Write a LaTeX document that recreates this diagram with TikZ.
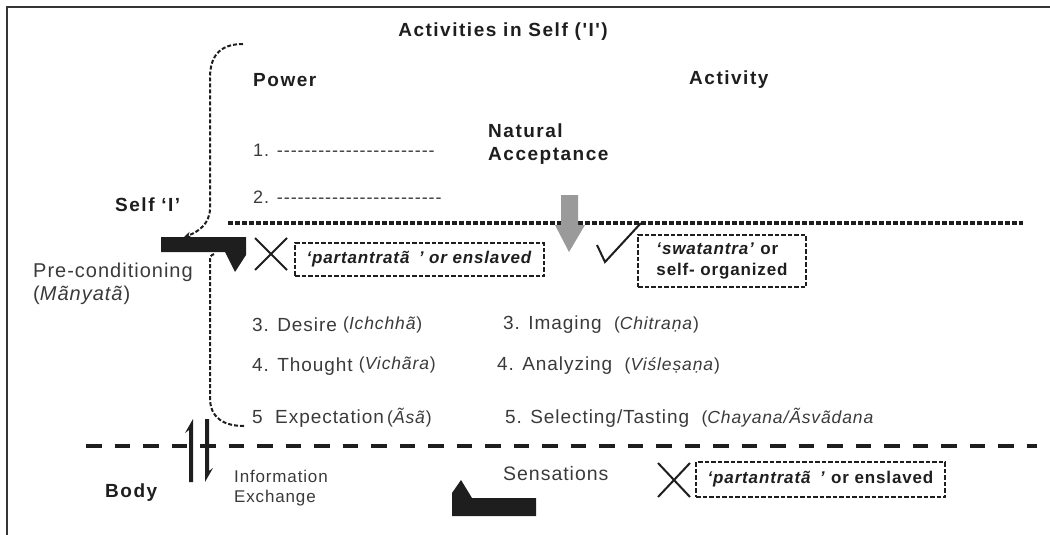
\documentclass[tikz,border=0pt]{standalone}
\usepackage{fontspec}
\setmainfont{Liberation Sans}[Ligatures=TeXOff]
\newfontfamily\hdf{Liberation Sans}[Ligatures=TeXOff,LetterSpace=8]
\newfontfamily\txf{Liberation Sans}[Ligatures=TeXOff,LetterSpace=5]
\newfontfamily\bxf{Liberation Sans}[Ligatures=TeXOff,LetterSpace=5]
\usetikzlibrary{arrows.meta}
\definecolor{ink}{HTML}{1E1E1E}
\definecolor{txt}{HTML}{3A3A3A}
\definecolor{arrowgray}{HTML}{9A9A9A}
\newcommand\skt[2][0pt]{\raisebox{#1}{\fontsize{17.5}{19}\selectfont(\textit{#2})}}
\newcommand\sktopen[1]{{\fontsize{17.5}{19}\selectfont(\textit{#1}}}
\tikzset{
  hd/.style={inner sep=0pt, anchor=west, font=\hdf\bfseries\fontsize{19}{23}\selectfont, text=ink},
  tx/.style={inner sep=0pt, anchor=west, font=\txf\fontsize{19}{23}\selectfont, text=txt},
  boxed/.style={draw=ink, line width=2.2pt, dash pattern=on 4.5pt off 2pt, inner sep=0pt,
    font=\bxf\bfseries\fontsize{17}{21}\selectfont, text=ink},
  curve/.style={draw=ink, line width=2pt, dash pattern=on 4pt off 2pt},
  frameline/.style={draw=ink!90, line width=2.5pt},
  blockfill/.style={fill=ink},
  cross/.style={draw=ink, line width=2pt},
}
\begin{document}
\begin{tikzpicture}[x=1pt,y=-1pt]
\useasboundingbox (0,0) rectangle (1050,535);
% frame
\draw[frameline] (1050,7) -- (7,7) -- (7,535);

% headings
\node[hd, anchor=center] (title) at (503,32) {Activities in Self ('I')};
\node[hd] (power) at (253,80) {Power};
\node[hd] (activity) at (689,80) {Activity};
\node[hd, align=left] (natacc) at (488,144) {Natural\\Acceptance};
\node[hd] (self) at (115,205) {Self ‘I’};
\node[hd] (body) at (105,493) {Body};

% power list
\node[tx, font=\txf\fontsize{18}{22}\selectfont] (p1) at (253,150) {1. -----------------------};
\node[tx, font=\txf\fontsize{18}{22}\selectfont] (p2) at (253,197) {2. ------------------------};

% pre-conditioning
\node[tx, font=\txf\fontsize{20}{23}\selectfont, align=left] (pre) at (33,283.5) {Pre-conditioning\\(\textit{Mãnyatã})};

% rows
\node[tx] (r3l) at (252,325) {3. Desire \skt[2pt]{Ichchhã}};
\node[tx] (r4l) at (252,366) {4. Thought \skt[2pt]{Vichãra}};
\node[tx] (r5l) at (252,418) {5\ \ Expectation\,\skt{Ãsã}};
\node[tx] (r3r) at (503,325) {3. Imaging \ \skt{Chitraṇa}};
\node[tx] (r4r) at (497,366) {4. Analyzing \ \skt{Viśleṣaṇa}};
\node[tx] (r5r) at (505,418) {5. Selecting/Tasting \ \sktopen{Chayana/Ãsvãdana}};

% bottom labels
\node[tx, font=\txf\fontsize{17}{20}\selectfont, align=left] (info) at (234,488) {Information\\Exchange};
\node[tx, font=\txf\fontsize{19.5}{23}\selectfont] (sens) at (503,474) {Sensations};

% boxes
\node[boxed, minimum width=249pt, minimum height=33pt] (box1) at (419.5,259.5)
  {\textit{‘partantratã\hspace{0.55em}’ or enslaved}};
\node[boxed, minimum width=168pt, minimum height=52pt, align=left] (box2) at (722,261)
  {\textit{‘swatantra’} or\\self- organized};
\node[boxed, minimum width=249pt, minimum height=35pt] (box3) at (820.5,479.5)
  {\textit{‘partantratã\hspace{0.55em}’} or enslaved};

% separating lines
\draw[draw=ink, line width=3.5pt, dash pattern=on 5pt off 2pt] (228,223) -- (1023,223);
\draw[draw=ink, line width=4pt, dash pattern=on 15.5pt off 13pt] (86,446) -- (1037,446);

% gray arrow (natural acceptance)
\fill[arrowgray] (561,195) -- (578,195) -- (578,225) -- (585,225) -- (569,252) -- (555,225) -- (561,225) -- cycle;

% black blocks
\fill[blockfill] (161,237) -- (246,237) -- (246,255) -- (235,272) -- (225,252) -- (161,252) -- cycle;
\fill[blockfill] (452,516) -- (452,493) -- (461,480) -- (472,498) -- (536,498) -- (536,516) -- cycle;

% crosses and check
\draw[cross] (255,238) -- (287,270) (287,238) -- (255,270);
\draw[cross] (658,463) -- (690,497) (690,463) -- (658,497);
\draw[cross] (597,245) -- (605,262) -- (641,223);

% dashed curves
\coordinate (c1s) at (243,44);
\coordinate (c1e) at (184,237);
\coordinate (c2s) at (214,254);
\coordinate (c2e) at (244,426);
\draw[curve, -{Stealth[length=7pt,width=6pt]}] (c1s) .. controls (218,44) and (210,58) .. (210,78)
  -- (210,208) .. controls (210,224) and (198,232) .. (c1e);
\draw[curve] (c2s) .. controls (210,256) .. (210,264) -- (210,398) .. controls (210,418) and (224,426) .. (c2e);

% information exchange harpoons
\fill[ink] (193,419) -- (185,433) -- (189,430) -- (189,482) -- (193,482) -- cycle;
\fill[ink] (205,482) -- (213,468) -- (209,471) -- (209,419) -- (205,419) -- cycle;
\end{tikzpicture}
\end{document}
